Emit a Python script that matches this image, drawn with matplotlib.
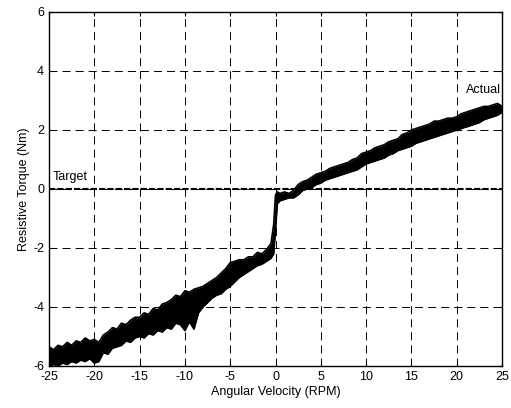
import matplotlib
matplotlib.use("Agg")
import matplotlib.pyplot as plt

plt.rcParams['font.family'] = ['Liberation Sans', 'DejaVu Sans']
plt.rcParams['lines.scale_dashes'] = False
plt.rcParams['axes.unicode_minus'] = False

# angular velocity samples (RPM) and the upper / lower edge of the measured torque band (Nm)
velocity = [-25.0, -24.5, -24.0, -23.5, -23.0, -22.5, -22.0, -21.5, -21.0, -20.5,
            -20.0, -19.5, -19.0, -18.5, -18.0, -17.5, -17.0, -16.5, -16.0, -15.5,
            -15.0, -14.5, -14.0, -13.5, -13.0, -12.5, -12.0, -11.5, -11.0, -10.5,
            -10.0, -9.5, -9.0, -8.5, -8.0, -7.5, -7.0, -6.5, -6.0, -5.5,
            -5.0, -4.5, -4.0, -3.5, -3.0, -2.5, -2.0, -1.5, -1.0, -0.5,
            -0.2, 0.0, 0.2, 0.5, 1.0, 1.5, 2.0, 2.5, 3.0, 3.5,
            4.0, 4.5, 5.0, 5.5, 6.0, 6.5, 7.0, 7.5, 8.0, 8.5,
            9.0, 9.5, 10.0, 10.5, 11.0, 11.5, 12.0, 12.5, 13.0, 13.5,
            14.0, 14.5, 15.0, 15.5, 16.0, 16.5, 17.0, 17.5, 18.0, 18.5,
            19.0, 19.5, 20.0, 20.5, 21.0, 21.5, 22.0, 22.5, 23.0, 23.5,
            24.0, 24.5, 25.0]
torque_hi = [-5.35, -5.45, -5.3, -5.35, -5.2, -5.3, -5.15, -5.2, -5.05, -5.15,
             -5.1, -5.2, -4.95, -4.85, -4.7, -4.75, -4.55, -4.6, -4.45, -4.35,
             -4.35, -4.2, -4.25, -4.05, -4.1, -3.9, -3.85, -3.75, -3.6, -3.65,
             -3.45, -3.5, -3.4, -3.35, -3.3, -3.2, -3.1, -3.0, -2.85, -2.7,
             -2.5, -2.45, -2.4, -2.4, -2.3, -2.3, -2.15, -2.2, -2.05, -1.85,
             -1.2, -0.2, -0.1, -0.15, -0.1, -0.15, -0.05, 0.15, 0.25, 0.3,
             0.4, 0.5, 0.55, 0.6, 0.7, 0.75, 0.8, 0.85, 0.9, 1.0,
             1.05, 1.2, 1.25, 1.3, 1.4, 1.45, 1.5, 1.6, 1.65, 1.7,
             1.85, 1.9, 2.0, 2.05, 2.1, 2.15, 2.2, 2.3, 2.3, 2.35,
             2.4, 2.4, 2.45, 2.55, 2.6, 2.65, 2.7, 2.75, 2.8, 2.8,
             2.85, 2.9, 2.8]
torque_lo = [-6.0, -5.95, -6.0, -5.9, -5.95, -5.85, -5.9, -5.8, -5.85, -5.75,
             -5.9, -5.85, -5.55, -5.6, -5.4, -5.35, -5.3, -5.15, -5.2, -5.05,
             -5.0, -5.05, -4.9, -4.95, -4.8, -4.85, -4.7, -4.75, -4.55, -4.6,
             -4.8, -4.5, -4.75, -4.2, -4.0, -3.85, -3.7, -3.6, -3.55, -3.4,
             -3.3, -3.15, -3.0, -2.9, -2.8, -2.7, -2.6, -2.55, -2.45, -2.35,
             -2.2, -1.4, -0.5, -0.4, -0.35, -0.3, -0.3, -0.2, -0.05, 0.0,
             0.05, 0.15, 0.2, 0.3, 0.35, 0.4, 0.45, 0.5, 0.55, 0.6,
             0.65, 0.75, 0.85, 0.9, 0.95, 1.0, 1.05, 1.15, 1.2, 1.3,
             1.35, 1.4, 1.45, 1.55, 1.6, 1.65, 1.7, 1.75, 1.8, 1.85,
             1.9, 1.95, 2.0, 2.05, 2.1, 2.15, 2.2, 2.25, 2.35, 2.4,
             2.45, 2.5, 2.6]

# short return trace near the end of the run
tail_vel = [21.2, 23.5]
tail_torque = [2.1, 2.4]

target_vel = [-25, 25]
target_torque = [0, 0]

fig = plt.figure(figsize=(5.11, 4.08), dpi=100)
ax = fig.add_axes([0.0959, 0.103, 0.8865, 0.8676])

ax.fill_between(velocity, torque_lo, torque_hi, color='black', linewidth=0)
ax.plot(velocity, torque_hi, color='black', lw=1.2)
ax.plot(velocity, torque_lo, color='black', lw=1.2)
ax.plot(tail_vel, tail_torque, color='black', lw=0.6)
ax.plot(target_vel, target_torque, color='black', lw=1.5, linestyle=(0, (4.5, 1.5)))

ax.text(-24.6, 0.4, 'Target', fontsize=9, va='center', ha='left')
ax.text(24.9, 3.35, 'Actual', fontsize=9, va='center', ha='right')

ax.set_xlim(-25, 25)
ax.set_ylim(-6, 6)
ax.set_xticks(range(-25, 26, 5))
ax.set_yticks(range(-6, 7, 2))
ax.grid(True, color='black', lw=0.7, linestyle=(0, (5.8, 3.6)))
ax.tick_params(direction='in', length=3, labelsize=9, top=True, right=True, width=0.8)
for s in ax.spines.values():
    s.set_linewidth(1.0)

ax.set_xlabel('Angular Velocity (RPM)', fontsize=9, labelpad=2)
ax.set_ylabel('Resistive Torque (Nm)', fontsize=9, labelpad=2)

fig.savefig('out.png', dpi=100)
